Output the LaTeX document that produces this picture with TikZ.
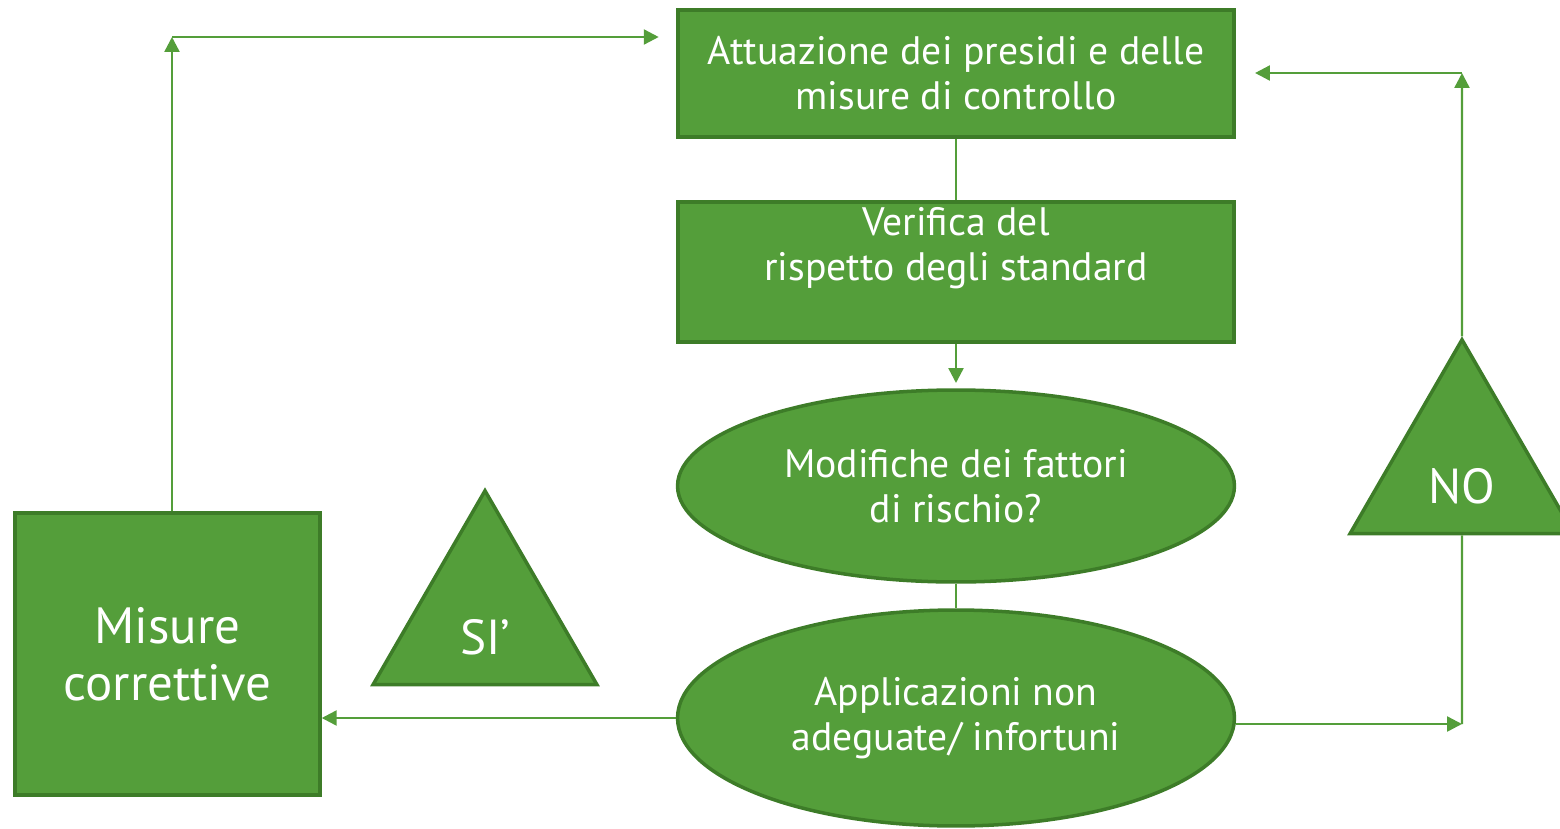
\documentclass[tikz,border=0pt]{standalone}
\usepackage{fontspec}
\setmainfont{PT Sans}
\usepackage{tikz}
\usetikzlibrary{positioning, shapes.geometric, arrows.meta}

\definecolor{leafgreen}{RGB}{84,158,58}
\definecolor{darkleaf}{RGB}{61,124,40}

\tikzset{
  greenshape/.style={draw=darkleaf, line width=2pt, fill=leafgreen, text=white, align=center,
    font=\fontsize{22.6}{25.5}\selectfont, inner sep=0pt},
  greenbox/.style={greenshape, rectangle, minimum width=11.12cm},
  greenoval/.style={greenshape, ellipse, minimum width=11.14cm},
  greentri/.style={greenshape, regular polygon, regular polygon sides=3, minimum size=5.17cm,
    font=\fontsize{28}{32}\selectfont, text height=1.38cm, text depth=0pt},
  conn/.style={draw=leafgreen, line width=1.4pt},
  tip/.style={-{Triangle[length=8.5pt,width=8.5pt]}}
}

\begin{document}
\begin{tikzpicture}[x=0.02cm, y=-0.02cm]
    \useasboundingbox (0,0) rectangle (1560,829);

    % Draw main column
    \node[greenbox, minimum height=2.54cm] (att) at (956,73.5) {Attuazione dei presidi e delle\\misure di controllo};
    \node[greenbox, minimum height=2.8cm] (ver) at (956,272) {Verifica del\\rispetto degli standard\\[6pt]\mbox{}};
    \node[greenoval, minimum height=3.84cm] (mod) at (956,486) {Modifiche dei fattori\\di rischio?};
    \node[greenoval, minimum height=4.32cm] (app) at (956,718) {Applicazioni non\\adeguate/ infortuni};

    % Draw side shapes
    \node[greenbox, minimum width=6.1cm, minimum height=5.64cm, font=\fontsize{29}{32.3}\selectfont] (mis) at (167.5,654) {Misure\\correttive};
    \node[greentri] (si) at (485,620) {SI’};
    \node[greentri] (no) at (1462,469) {NO};

    % Corners of the loops
    \coordinate (tl) at (172,37);
    \coordinate (tr) at (1462,73);
    \coordinate (br) at (1462,724);

    % Draw connectors
    \draw[conn] (att.south) -- (ver.north);
    \draw[conn, tip, shorten >=3pt] (ver.south) -- (mod.north);
    \draw[conn] (mod.south) -- (app.north);
    \draw[conn, tip] (app.west) -- (mis.east |- app.west);
    \draw[conn, tip] (tl |- mis.north) -- (tl);
    \draw[conn, tip, shorten >=10pt] (tl) -- (att.west |- tl);
    \draw[conn, tip] (app.east |- br) -- (br);
    \draw[conn] (no.south) -- (br);
    \draw[conn, tip] (no.north) -- (tr);
    \draw[conn, tip, shorten >=11pt] (tr) -- (att.east |- tr);

\end{tikzpicture}
\end{document}
